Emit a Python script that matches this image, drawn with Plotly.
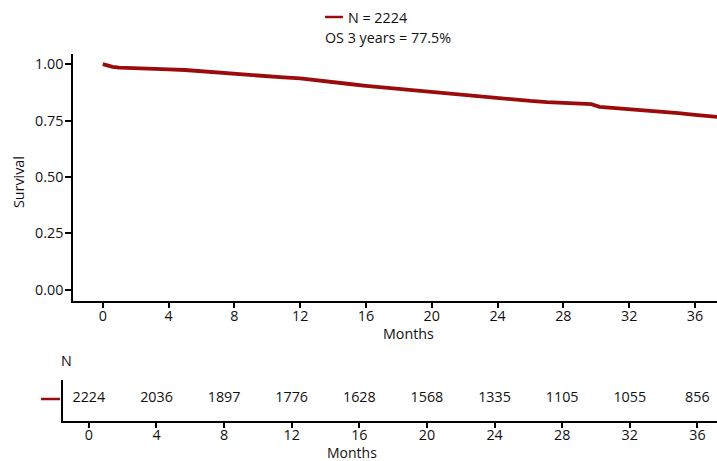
import plotly.graph_objects as go

# Kaplan-Meier overall survival estimate (months, survival probability)
km_months = [0, 0.3, 0.6, 1, 2, 3, 4, 5, 6, 7, 8, 9, 10, 11, 12, 13, 14, 15, 16,
             17, 18, 19, 20, 21, 22, 23, 24, 25, 26, 27, 28, 29, 29.7, 30.2, 31,
             32, 33, 34, 35, 36, 37, 37.5]
km_surv = [1.000, 0.994, 0.988, 0.985, 0.981, 0.979, 0.977, 0.974, 0.968, 0.962,
           0.955, 0.950, 0.946, 0.941, 0.937, 0.930, 0.921, 0.912, 0.904, 0.897,
           0.890, 0.884, 0.878, 0.870, 0.865, 0.857, 0.850, 0.843, 0.837, 0.832,
           0.828, 0.825, 0.823, 0.811, 0.807, 0.802, 0.796, 0.789, 0.783, 0.775,
           0.769, 0.765]

# Number at risk table
risk_months = [0, 4, 8, 12, 16, 20, 24, 28, 32, 36]
risk_n = [2224, 2036, 1897, 1776, 1628, 1568, 1335, 1105, 1055, 856]

x_ticks = [0, 4, 8, 12, 16, 20, 24, 28, 32, 36]
y_ticks = [0, 0.25, 0.5, 0.75, 1.0]
y_ticktext = ["0.00", "0.25", "0.50", "0.75", "1.00"]

legend_n = "N = 2224"
legend_os = "OS 3 years = 77.5%"

COL = "#9c0b0b"
FONT = "Open Sans"
FS = 14.3
W, H = 717, 461

fig = go.Figure()

fig.add_trace(go.Scatter(
    x=km_months, y=km_surv, mode="lines",
    line=dict(color=COL, width=3.8),
    xaxis="x", yaxis="y", showlegend=False, hoverinfo="skip",
))

fig.add_trace(go.Scatter(
    x=risk_months, y=[0] * len(risk_months), mode="text",
    text=[str(v) for v in risk_n], textposition="middle center",
    textfont=dict(family=FONT, size=FS, color="#111"),
    xaxis="x2", yaxis="y2", showlegend=False, hoverinfo="skip",
))

axis_common = dict(
    showline=True, linecolor="black", linewidth=1.5,
    ticks="outside", tickcolor="black", tickwidth=1.5,
    showgrid=False, zeroline=False,
    tickfont=dict(family=FONT, size=FS, color="#111"),
)

fig.update_layout(
    width=W, height=H,
    margin=dict(l=0, r=0, t=0, b=0),
    plot_bgcolor="white", paper_bgcolor="white",
    xaxis=dict(domain=[73 / W, 1], range=[-1.81, 37.34], anchor="y",
               tickvals=x_ticks, ticklen=5, ticklabelstandoff=-4, **axis_common),
    yaxis=dict(domain=[(H - 301) / H, (H - 54) / H], range=[-0.05, 1.045],
               anchor="x", tickvals=y_ticks, ticktext=y_ticktext, ticklen=6,
               ticklabelstandoff=-1, **axis_common),
    xaxis2=dict(domain=[63 / W, 1], range=[-1.53, 37.16], anchor="y2",
                tickvals=x_ticks, ticklen=5, ticklabelstandoff=-5, **axis_common),
    yaxis2=dict(domain=[(H - 421) / H, (H - 380) / H], range=[-1.08, 0.92],
                anchor="x2", tickvals=[], **axis_common),
    font=dict(family=FONT, size=FS, color="#111"),
)

ann = dict(xref="paper", yref="paper", showarrow=False,
           font=dict(family=FONT, size=FS, color="#111"))

def py(p):
    return (H - p) / H

def px(p):
    return p / W

fig.add_annotation(x=px(346), y=py(17), text=legend_n, xanchor="left", yanchor="middle", **ann)
fig.add_annotation(x=px(323), y=py(37), text=legend_os, xanchor="left", yanchor="middle", **ann)
fig.add_shape(type="line", xref="paper", yref="paper",
              x0=px(325), x1=px(343), y0=py(17), y1=py(17),
              line=dict(color=COL, width=2.5))

fig.add_annotation(x=px(408), y=py(333), text="Months", xanchor="center", yanchor="middle", **ann)
fig.add_annotation(x=px(352), y=py(452), text="Months", xanchor="center", yanchor="middle",
                   xref="paper", yref="paper", showarrow=False,
                   font=dict(family=FONT, size=14, color="#111"))
fig.add_annotation(x=px(18), y=py(182), text="Survival", textangle=-90,
                   xanchor="center", yanchor="middle", **ann)
fig.add_annotation(x=px(66), y=py(360), text="N", xanchor="center", yanchor="middle", **ann)

# Strata key for the risk table row
fig.add_shape(type="line", xref="paper", yref="paper",
              x0=px(41), x1=px(60), y0=py(399), y1=py(399),
              line=dict(color=COL, width=2.5))

fig.write_html("out.html")
